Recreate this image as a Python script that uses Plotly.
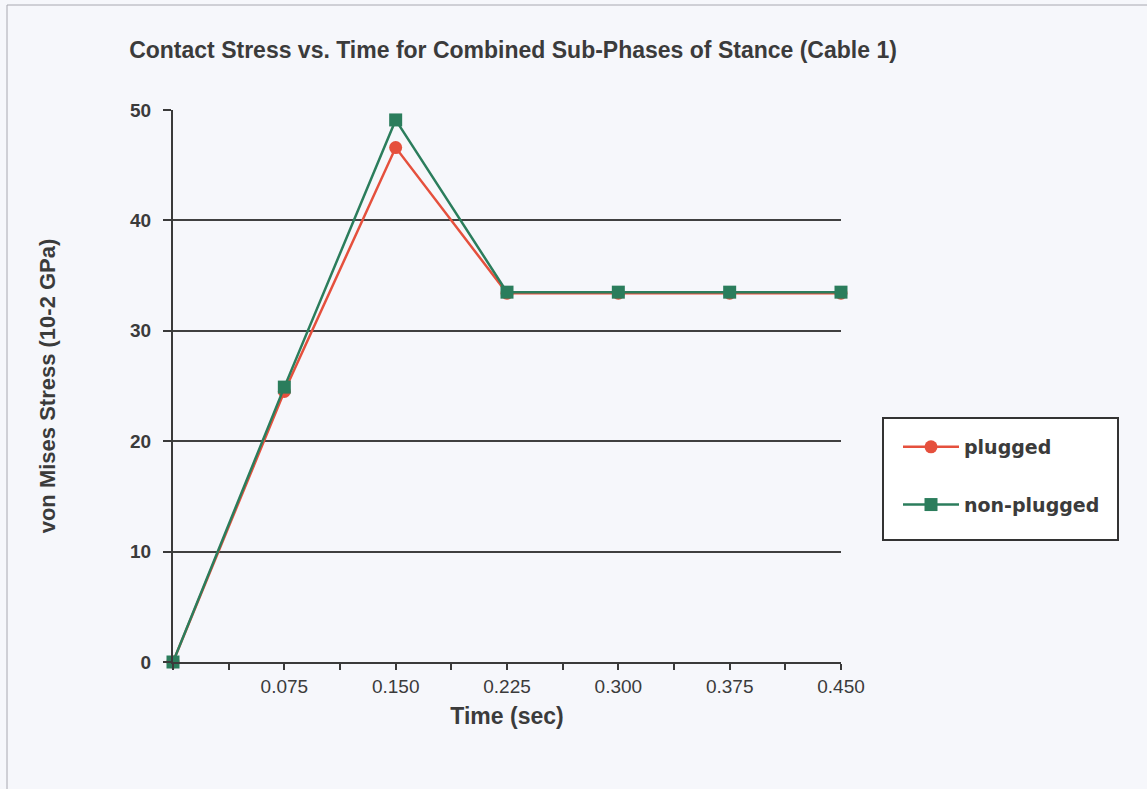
import plotly.graph_objects as go

# ---- data ----
time_sec = [0.0, 0.075, 0.150, 0.225, 0.300, 0.375, 0.450]
plugged = [0.0, 24.5, 46.6, 33.4, 33.4, 33.4, 33.4]
non_plugged = [0.0, 24.9, 49.1, 33.5, 33.5, 33.5, 33.5]
x_tick_vals = [0.075, 0.150, 0.225, 0.300, 0.375, 0.450]
x_tick_text = ["0.075", "0.150", "0.225", "0.300", "0.375", "0.450"]
y_tick_vals = [0, 10, 20, 30, 40, 50]

W, H = 1147, 789
L, R, T, B = 173, 1147 - 841, 110, 789 - 662
pw, ph = W - L - R, H - T - B

def px_x(px):
    return (px - L) / pw

def px_y(py):
    return (H - B - py) / ph

RED = "#e5503d"
GREEN = "#2b7d5c"
AXC = "#3a3a3a"
TXT = "#3b3b3b"

fig = go.Figure()
fig.add_trace(go.Scatter(
    x=time_sec, y=plugged, name="plugged", mode="lines+markers",
    line=dict(color=RED, width=2.5),
    marker=dict(symbol="circle", size=13, color=RED),
    cliponaxis=False, legendgroup="a"))
fig.add_trace(go.Scatter(
    x=time_sec, y=non_plugged, name="non-plugged", mode="lines+markers",
    line=dict(color=GREEN, width=2.5),
    marker=dict(symbol="square", size=13, color=GREEN),
    cliponaxis=False, legendgroup="b"))

fig.update_layout(
    width=W, height=H,
    margin=dict(l=L, r=R, t=T, b=B, pad=0),
    paper_bgcolor="#f6f7fb", plot_bgcolor="rgba(0,0,0,0)",
    font=dict(family="Liberation Sans, Arial", color=TXT),
    title=dict(text="<b>Contact Stress vs. Time for Combined Sub-Phases of Stance (Cable 1)</b>",
               x=px_x(513), xref="paper", xanchor="center",
               y=1 - 50 / H, yref="container", yanchor="middle",
               font=dict(size=23, color=TXT, family="Liberation Sans, Arial")),
    xaxis=dict(range=[0, 0.45], tickvals=x_tick_vals, ticktext=x_tick_text,
               showgrid=False, zeroline=False, showline=True, linecolor=AXC, linewidth=2,
               ticks="outside", ticklen=6, tickwidth=2, tickcolor=AXC,
               minor=dict(tick0=0, dtick=0.0375, ticks="outside", ticklen=6,
                          tickwidth=2, tickcolor=AXC, showgrid=False),
               tickfont=dict(size=19, color=TXT),
               title=dict(text="<b>Time (sec)</b>", font=dict(size=23, color=TXT), standoff=12)),
    yaxis=dict(range=[0, 50], tickvals=y_tick_vals,
               showgrid=True, gridcolor="#404040", gridwidth=2,
               zeroline=False, showline=True, linecolor=AXC, linewidth=2,
               ticks="outside", ticklen=8, tickwidth=2, tickcolor=AXC,
               ticklabelstandoff=8,
               tickfont=dict(size=19, color=TXT, weight="bold"),
               title=dict(text="<b>von Mises Stress (10-2 GPa)</b>",
                          font=dict(size=22, color=TXT), standoff=68)),
    showlegend=True,
    legend=dict(x=px_x(898), y=px_y(428), xanchor="left", yanchor="top",
                bgcolor="rgba(0,0,0,0)", borderwidth=0,
                font=dict(size=19, color=TXT, family="DejaVu Sans, Verdana", weight="bold"),
                tracegroupgap=30, itemwidth=56),
)

# legend box
fig.add_shape(type="rect", xref="paper", yref="paper",
              x0=px_x(883), x1=px_x(1118), y0=px_y(540), y1=px_y(418),
              line=dict(color="#333333", width=2), fillcolor="white", layer="below")
# page frame (left & top)
fig.add_shape(type="line", xref="paper", yref="paper",
              x0=px_x(7), x1=px_x(7), y0=px_y(789), y1=px_y(5),
              line=dict(color="#a8a8b0", width=1))
fig.add_shape(type="line", xref="paper", yref="paper",
              x0=px_x(7), x1=px_x(1147), y0=px_y(5), y1=px_y(5),
              line=dict(color="#a8a8b0", width=1))

fig.write_html("out.html", config={"displayModeBar": False},
               post_script="document.body.style.margin='0';document.body.style.background='#f6f7fb';")
